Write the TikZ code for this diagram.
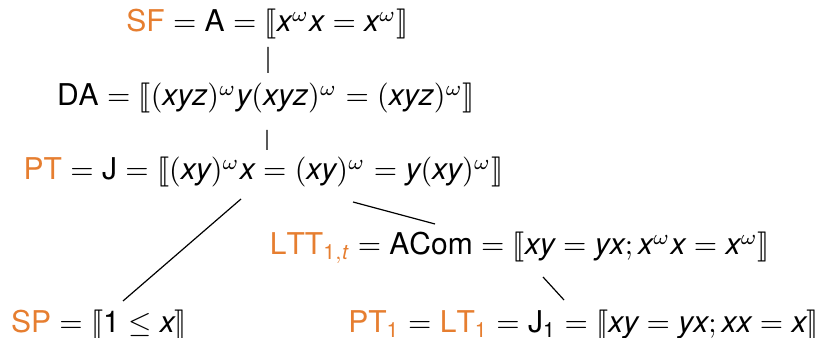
\documentclass[tikz,border=0pt]{standalone}
\usepackage{amsmath}
\usepackage{stmaryrd}
\usepackage{fontspec}
\setmainfont{TeX Gyre Heros}
\definecolor{orng}{RGB}{230,126,48}
\newcommand\mv[1]{\mathit{#1}}
\newcommand\og[1]{\textcolor{orng}{\mathrm{#1}}}
\newcommand\sm{\mathpunct{\mathrm{;}}}
\tikzset{lbl/.style={anchor=base,inner sep=0pt,font=\fontsize{10}{12}\selectfont},
  conn/.style={line width=0.4pt}}
\begin{document}
\begin{tikzpicture}[x=0.3333pt,y=-0.3333pt]
\useasboundingbox (0,0) rectangle (815,338);
\node[lbl] (sf) at (267.5,32) {$\og{SF}=\mathrm{A}=\llbracket \mv{x}^\omega\mv{x}=\mv{x}^\omega\rrbracket$};
\node[lbl] (da) at (266,106) {$\mathrm{DA}=\llbracket(\mv{xyz})^\omega \mv{y}(\mv{xyz})^\omega=(\mv{xyz})^\omega\rrbracket$};
\node[lbl] (pt) at (263.5,180) {$\og{PT}=\mathrm{J}=\llbracket(\mv{xy})^\omega\mv{x}=(\mv{xy})^\omega=\mv{y}(\mv{xy})^\omega\rrbracket$};
\node[lbl] (ltt) at (520,255) {$\textcolor{orng}{\mathrm{LTT}_{\mathrm{1},\mv{t}}}=\mathrm{ACom}=\llbracket\mv{xy}=\mv{yx}\sm\mv{x}^\omega\mv{x}=\mv{x}^\omega\rrbracket$};
\node[lbl] (sp) at (99,333) {$\og{SP}=\llbracket \mathrm{1}\leq\mv{x}\rrbracket$};
\node[lbl] (pt1) at (583.5,333) {$\textcolor{orng}{\mathrm{PT}_{\mathrm{1}}}=\textcolor{orng}{\mathrm{LT}_{\mathrm{1}}}=\mathrm{J}_{\mathrm{1}}=\llbracket\mv{xy}=\mv{yx}\sm\mv{xx}=\mv{x}\rrbracket$};
\draw[conn] ([shift={(0.5,15)}]sf.base) -- ([shift={(2,-33)}]da.base);
\draw[conn] ([shift={(1,24)}]da.base) -- ([shift={(3.5,-30)}]pt.base);
\draw[conn] ([shift={(-22.5,19)}]pt.base) -- ([shift={(24,-32)}]sp.base);
\draw[conn] ([shift={(89.5,22)}]pt.base) -- ([shift={(-85,-31)}]ltt.base);
\draw[conn] ([shift={(23,22)}]ltt.base) -- ([shift={(-19.5,-33)}]pt1.base);
\end{tikzpicture}
\end{document}
